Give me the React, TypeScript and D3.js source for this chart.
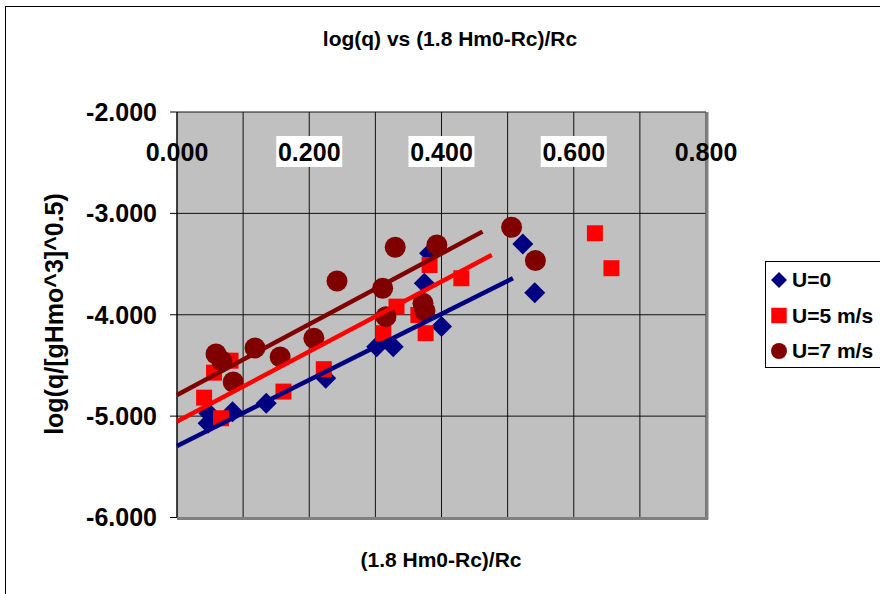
import React from 'react';
import * as d3 from 'd3';

// U=0 (blue diamonds)
const u0X = [0.048, 0.047, 0.084, 0.135, 0.225, 0.302, 0.327, 0.374, 0.382, 0.400, 0.523, 0.541];
const u0Y = [-4.971, -5.070, -4.956, -4.873, -4.626, -4.315, -4.315, -3.689, -3.393, -4.117, -3.302, -3.782];

// U=5 m/s (red squares)
const u5X = [0.041, 0.056, 0.081, 0.0665, 0.161, 0.222, 0.312, 0.332, 0.365, 0.376, 0.382, 0.430, 0.632, 0.657];
const u5Y = [-4.818, -4.571, -4.453, -5.021, -4.758, -4.537, -4.182, -3.920, -4.002, -4.182, -3.509, -3.640, -3.196, -3.541];

// U=7 m/s (dark red circles)
const u7X = [0.059, 0.068, 0.118, 0.156, 0.085, 0.207, 0.242, 0.311, 0.316, 0.330, 0.372, 0.375, 0.393, 0.506, 0.542];
const u7Y = [-4.387, -4.456, -4.327, -4.416, -4.663, -4.232, -3.667, -3.739, -4.019, -3.334, -3.887, -3.963, -3.312, -3.137, -3.466];

// linear trend lines [x, y] start / end
const trendU0: [number, number][] = [[0, -5.294], [0.508, -3.640]];
const trendU5: [number, number][] = [[0, -5.054], [0.476, -3.410]];
const trendU7: [number, number][] = [[0, -4.791], [0.462, -3.180]];

const xTicks = [0, 0.2, 0.4, 0.6, 0.8];
const yTicks = [-2, -3, -4, -5, -6];
const seriesNames = ['U=0', 'U=5 m/s', 'U=7 m/s'];

const FONT = '"Liberation Sans", Arial, sans-serif';
const C0 = '#000080';
const C5 = '#FF0000';
const C7 = '#800000';

const App: React.FC = () => {
  const x = d3.scaleLinear().domain([0, 0.8]).range([177, 706]);
  const y = d3.scaleLinear().domain([-6, -2]).range([517.5, 112]);
  const line = d3.line<[number, number]>().x(d => x(d[0])).y(d => y(d[1]));

  const diamond = d3.symbol().type(d3.symbolSquare).size(220)();
  const square = d3.symbol().type(d3.symbolSquare).size(256)();
  const legDiamond = d3.symbol().type(d3.symbolSquare).size(128)();
  const legSquare = d3.symbol().type(d3.symbolSquare).size(240)();

  const [x0, x1] = x.range();
  const [yb, yt] = y.range();

  return (
    <svg width={880} height={594} style={{ position: 'absolute', left: 0, top: 0 }} fontFamily={FONT} fontWeight="bold">
      <rect x={0} y={0} width={880} height={594} fill="#fff" />
      <rect x={5.5} y={6.5} width={1000} height={700} fill="#fff" stroke="#000" />

      <text x={450} y={46} textAnchor="middle" fontSize={21}>log(q) vs (1.8 Hm0-Rc)/Rc</text>

      {/* plot area */}
      <rect x={x0} y={yt} width={x1 - x0} height={yb - yt} fill="#C0C0C0" />
      {x.ticks(8).map(t => (
        <line key={'gx' + t} x1={x(t)} x2={x(t)} y1={yt} y2={yb} stroke="#111" strokeWidth={1} />
      ))}
      {yTicks.map(t => (
        <line key={'gy' + t} x1={x0} x2={x1} y1={y(t)} y2={y(t)} stroke="#111" strokeWidth={1} />
      ))}
      <line x1={x1 + 1} x2={x1 + 1} y1={yt} y2={yb + 2} stroke="#808080" strokeWidth={3} />
      <line x1={x0} x2={x1 + 2} y1={yb + 1} y2={yb + 1} stroke="#808080" strokeWidth={3} />

      {/* y axis */}
      <line x1={x0} x2={x0} y1={yt} y2={yb} stroke="#000" />
      {yTicks.map(t => (
        <g key={'yt' + t}>
          <line x1={x0 - 7} x2={x0} y1={y(t)} y2={y(t)} stroke="#000" />
          <text x={157} y={y(t)} dy="0.35em" textAnchor="end" fontSize={25}>{t.toFixed(3)}</text>
        </g>
      ))}

      {/* x tick labels inside plot top */}
      {xTicks.map((t, i) => (
        <g key={'xt' + t}>
          {i > 0 && i < xTicks.length - 1 && (
            <rect x={x(t) - 33} y={136} width={66} height={31} fill="#fff" />
          )}
          <text x={x(t)} y={152} dy="0.35em" textAnchor="middle" fontSize={25}>{t.toFixed(3)}</text>
        </g>
      ))}

      {/* points */}
      {u0X.map((v, i) => (
        <path key={'a' + i} d={diamond} transform={`translate(${x(v)},${y(u0Y[i])}) rotate(45)`} fill={C0} />
      ))}
      {u5X.map((v, i) => (
        <path key={'b' + i} d={square} transform={`translate(${x(v)},${y(u5Y[i])})`} fill={C5} />
      ))}
      {u7X.map((v, i) => (
        <circle key={'c' + i} cx={x(v)} cy={y(u7Y[i])} r={10.5} fill={C7} />
      ))}

      {/* trend lines */}
      <path d={line(trendU0)!} stroke={C0} strokeWidth={4.5} fill="none" />
      <path d={line(trendU5)!} stroke={C5} strokeWidth={4.5} fill="none" />
      <path d={line(trendU7)!} stroke={C7} strokeWidth={4.5} fill="none" />

      {/* axis titles */}
      <text x={441} y={567} textAnchor="middle" fontSize={21}>(1.8 Hm0-Rc)/Rc</text>
      <text transform="translate(63,314) rotate(-90)" textAnchor="middle" fontSize={25}>log(q/[gHmo^3]^0.5)</text>

      {/* legend */}
      <rect x={765.5} y={261.5} width={200} height={106} fill="#fff" stroke="#000" />
      {seriesNames.map((name, i) => {
        const cy = 280 + i * 35.5;
        return (
          <g key={name}>
            {i === 0 && <path d={legDiamond} transform={`translate(779,${cy}) rotate(45)`} fill={C0} />}
            {i === 1 && <path d={legSquare} transform={`translate(779,${cy})`} fill={C5} />}
            {i === 2 && <circle cx={779} cy={cy} r={8} fill={C7} />}
            <text x={792} y={cy} dy="0.35em" fontSize={21}>{name}</text>
          </g>
        );
      })}
    </svg>
  );
};

export default App;
